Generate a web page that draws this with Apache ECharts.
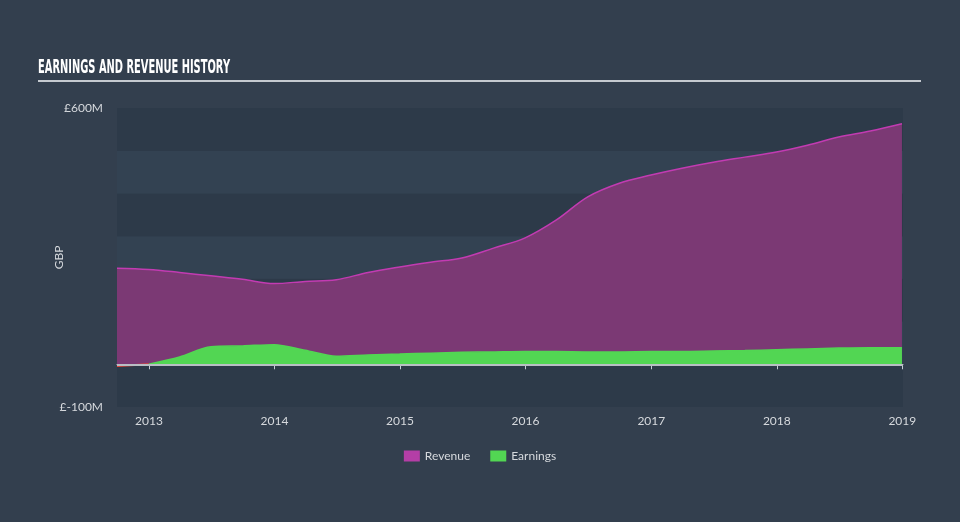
<!DOCTYPE html>
<html><head><meta charset="utf-8">
<script src="https://cdn.jsdelivr.net/npm/echarts@6/dist/echarts.min.js"></script>
<style>html,body{margin:0;padding:0;background:#333f4e;}#c{width:960px;height:522px;}</style>
</head><body><div id="c"></div>
<script>
const dates = ['2012-09-30','2012-12-31','2013-03-31','2013-06-30','2013-09-30','2013-12-31','2014-03-31','2014-06-30','2014-09-30','2014-12-31','2015-03-31','2015-06-30','2015-09-30','2015-12-31','2016-03-31','2016-06-30','2016-09-30','2016-12-31','2017-03-31','2017-06-30','2017-09-30','2017-12-31','2018-03-31','2018-06-30','2018-09-30','2018-12-31'];
const revenue = [225,222,215,207,199,189,194,198,215,228,239,249,272,296,338,392,424,443,459,473,485,497,513,532,546,563];
const earnings = [-4,0,17,41,43,46,33,19,22,24,26,28,29,30,30,29,29,30,30,31,32,34,36,38,39,39];
const yTicks = [-100, 600];

// split earnings into the negative leading part (red) and the rest (green)
let firstNonNeg = earnings.findIndex(v => v >= 0);
const earnNeg = dates.slice(0, firstNonNeg + 1).map((d, i) => [d, earnings[i]]);
const earnPos = dates.slice(firstNonNeg).map((d, i) => [d, earnings[i + firstNonNeg]]);

const chart = echarts.init(document.getElementById('c'), null, {renderer:'canvas'});
const font = 'Lato, "Open Sans", sans-serif';
chart.setOption({
  backgroundColor: '#333f4e',
  animation: false,
  graphic: [
    {type: 'text', left: 38, top: 59, scaleX: 0.52, scaleY: 1,
     style: {text: 'EARNINGS AND REVENUE HISTORY', fill: '#ffffff', font: 'bold 19px "DejaVu Sans", sans-serif'}},
    {type: 'line', shape: {x1: 38, y1: 81, x2: 921, y2: 81}, style: {stroke: '#c5cad0', lineWidth: 2}}
  ],
  legend: {
    bottom: 55, left: 'center', itemWidth: 16, itemHeight: 11, itemGap: 20,
    icon: 'rect',
    textStyle: {color: '#d6d9dd', fontSize: 12, fontFamily: font},
    data: ['Revenue', 'Earnings']
  },
  grid: {left: 117, right: 57, top: 108, bottom: 115},
  xAxis: {
    type: 'time', min: '2012-09-30', max: '2019-01-03',
    minInterval: 365*24*3600*1000, maxInterval: 366*24*3600*1000,
    axisLine: {lineStyle: {color: '#c5ccd6', width: 1}},
    axisTick: {show: true, length: 5, lineStyle: {color: '#c5ccd6'}},
    axisLabel: {color: '#d6d9dd', fontSize: 12, fontFamily: font, formatter: '{yyyy}', margin: 8},
    splitLine: {show: false}
  },
  yAxis: {
    type: 'value', min: -100, max: 600, interval: 100,
    name: 'GBP', nameLocation: 'middle', nameGap: 52, nameRotate: 90, nameMoveOverlap: false,
    nameTextStyle: {color: '#d6d9dd', fontSize: 12, fontFamily: font},
    axisLine: {show: false}, axisTick: {show: false},
    axisLabel: {color: '#d6d9dd', fontSize: 12, fontFamily: font, margin: 14,
      formatter: v => yTicks.includes(v) ? '£' + v + 'M' : ''},
    splitLine: {show: false},
    splitArea: {show: true, areaStyle: {color: ['#2d3a49', '#334252']}}
  },
  series: [
    {name: 'Revenue', type: 'line', smooth: 0.35, symbol: 'none',
     data: dates.map((d, i) => [d, revenue[i]]),
     itemStyle: {color: '#b43ea6'},
     lineStyle: {color: '#c23bb2', width: 1.5},
     areaStyle: {color: '#7b3974', opacity: 1},
     markLine: {silent: true, symbol: 'none', label: {show: false},
       lineStyle: {color: '#b9bec4', width: 2, type: 'solid'}, data: [{yAxis: 0}]},
     z: 2},
    {name: 'Earnings', type: 'line', smooth: 0.3, symbol: 'none',
     data: earnPos,
     itemStyle: {color: '#52d653'},
     lineStyle: {color: '#52d653', width: 1.5},
     areaStyle: {color: '#52d653', opacity: 1},
     z: 3},
    {name: 'EarningsNeg', type: 'line', smooth: 0.3, symbol: 'none',
     data: earnNeg,
     itemStyle: {color: '#e8483a'},
     lineStyle: {color: '#e8483a', width: 2},
     areaStyle: {color: '#e8483a', opacity: 1},
     z: 4}
  ]
});
</script></body></html>
